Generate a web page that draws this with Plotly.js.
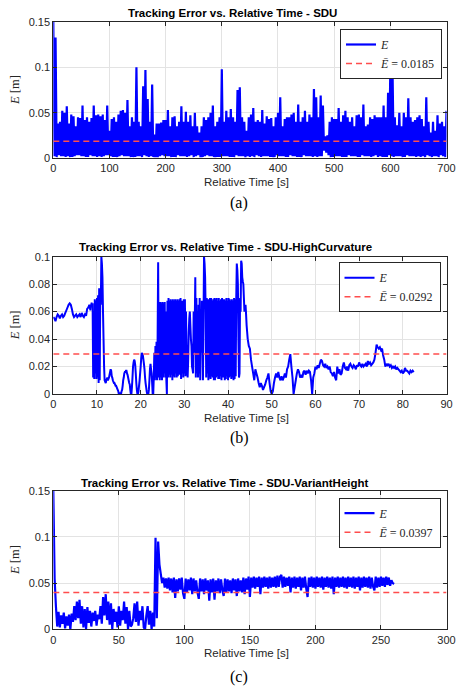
<!DOCTYPE html>
<html>
<head>
<meta charset="utf-8">
<script src="https://cdn.plot.ly/plotly-3.0.1.min.js"></script>
<style>
html,body{margin:0;padding:0;background:#ffffff;}
#chart{width:457px;height:687px;}
</style>
</head>
<body>
<div id="chart"></div>
<script>
// ---------------- DATA ----------------
// (a) SDU : tracking error sampled every 2 s
const sduStart = 0;
const sduStep = 2;
const sduError = [
0.150,0.002,0.133,0.001,0.038,0.003,0.040,0.002,0.052,0.002,
0.050,0.001,0.057,0.002,0.038,0.001,0.048,0.001,0.046,0.002,
0.035,0.003,0.045,0.003,0.044,0.002,0.058,0.002,0.042,0.001,
0.045,0.001,0.040,0.003,0.044,0.002,0.058,0.002,0.047,0.001,
0.048,0.002,0.046,0.001,0.048,0.002,0.042,0.003,0.058,0.003,
0.030,0.002,0.043,0.001,0.045,0.001,0.040,0.001,0.048,0.002,
0.052,0.003,0.053,0.002,0.050,0.002,0.064,0.002,0.035,0.001,
0.045,0.001,0.040,0.001,0.100,0.002,0.040,0.002,0.035,0.001,
0.079,0.003,0.097,0.002,0.065,0.001,0.040,0.002,0.081,0.001,
0.026,0.001,0.038,0.001,0.038,0.002,0.039,0.003,0.042,0.002,
0.042,0.002,0.053,0.002,0.035,0.001,0.045,0.001,0.046,0.001,
0.035,0.003,0.040,0.002,0.057,0.002,0.040,0.002,0.051,0.001,
0.040,0.002,0.047,0.003,0.035,0.001,0.050,0.002,0.035,0.003,
0.028,0.001,0.035,0.001,0.045,0.002,0.042,0.003,0.045,0.002,
0.050,0.002,0.058,0.001,0.035,0.001,0.040,0.001,0.045,0.001,
0.098,0.002,0.040,0.002,0.052,0.002,0.045,0.001,0.054,0.001,
0.045,0.001,0.040,0.003,0.075,0.002,0.078,0.002,0.045,0.002,
0.040,0.001,0.030,0.002,0.045,0.001,0.048,0.002,0.055,0.001,
0.040,0.003,0.042,0.002,0.040,0.001,0.053,0.002,0.038,0.002,
0.046,0.002,0.043,0.001,0.044,0.001,0.035,0.001,0.045,0.003,
0.050,0.002,0.067,0.002,0.035,0.002,0.043,0.001,0.045,0.001,
0.045,0.003,0.048,0.002,0.050,0.002,0.040,0.001,0.059,0.001,
0.040,0.001,0.045,0.003,0.052,0.002,0.040,0.002,0.048,0.002,
0.045,0.001,0.076,0.002,0.067,0.001,0.045,0.002,0.069,0.002,
0.058,0.008,0.024,0.006,0.025,0.003,0.040,0.001,0.045,0.001,
0.043,0.002,0.043,0.002,0.055,0.002,0.040,0.001,0.047,0.001,
0.052,0.001,0.045,0.003,0.040,0.002,0.045,0.002,0.035,0.002,
0.047,0.001,0.048,0.001,0.045,0.003,0.059,0.002,0.035,0.002,
0.037,0.002,0.045,0.001,0.043,0.002,0.047,0.003,0.045,0.001,
0.045,0.002,0.045,0.001,0.058,0.001,0.045,0.001,0.072,0.003,
0.100,0.002,0.093,0.001,0.045,0.002,0.036,0.002,0.050,0.002,
0.035,0.001,0.050,0.001,0.045,0.003,0.066,0.002,0.045,0.002,
0.040,0.002,0.042,0.001,0.045,0.002,0.047,0.001,0.043,0.002,
0.035,0.001,0.067,0.003,0.040,0.002,0.028,0.001,0.040,0.002,
0.030,0.002,0.047,0.001,0.038,0.003,0.040,0.002,0.035,0.001,
0.052
];
const sduMean = 0.0185;

// (b) SDU-HighCurvature : three stretches of one recording
// 0 s .. 9 s, sampled every 0.25 s
const hcStartA = 0, hcStepA = 0.25;
const hcErrorA = [
0.056,0.055,0.053,0.056, 0.058,0.057,0.055,0.057, 0.058,0.056,0.057,0.059,
0.061,0.063,0.065,0.066, 0.065,0.062,0.058,0.056, 0.057,0.058,0.056,0.057,
0.058,0.056,0.059,0.057, 0.056,0.058,0.057,0.062, 0.063,0.065,0.061,0.066,
0.066
];
// 9 s .. 44.5 s, sampled every 0.125 s
const hcStartB = 9, hcStepB = 0.125;
const hcErrorB = [
0.066,0.012,0.060,0.011,0.069,0.015,0.068,0.011,
0.070,0.012,0.072,0.008,0.077,0.010,0.075,0.065,
0.100,0.095,0.085,0.060,0.040,0.020,0.010,0.009,
0.008,0.010,0.011,0.012,0.010,0.011,0.012,0.014,
0.016,0.018,0.017,0.013,0.012,0.010,0.009,0.008,
0.008,0.007,0.006,0.006,0.005,0.004,0.003,0.002,
0.000,0.000,0.001,0.000,0.000,0.002,0.003,0.006,
0.010,0.012,0.015,0.016,0.016,0.017,0.017,0.015,
0.014,0.012,0.010,0.008,0.007,0.003,0.000,0.000,
0.005,0.012,0.020,0.023,0.025,0.024,0.021,0.015,
0.008,0.003,0.000,0.000,0.002,0.006,0.010,0.015,
0.020,0.026,0.030,0.029,0.028,0.025,0.022,0.018,
0.012,0.008,0.005,0.002,0.000,0.000,0.000,0.003,
0.010,0.018,0.022,0.018,0.015,0.008,0.000,0.000,
0.012,0.030,0.010,0.035,0.012,0.038,0.010,0.040,
0.096,0.012,0.067,0.010,0.067,0.012,0.066,0.010,
0.067,0.012,0.066,0.015,0.067,0.012,0.060,0.010,
0.000,0.068,0.012,0.070,0.014,0.068,0.012,0.069,
0.014,0.068,0.010,0.069,0.013,0.068,0.012,0.069,
0.015,0.068,0.012,0.069,0.013,0.068,0.014,0.069,
0.014,0.070,0.011,0.068,0.015,0.068,0.012,0.069,
0.015,0.069,0.013,0.060,0.030,0.020,0.012,0.025,
0.045,0.055,0.060,0.050,0.040,0.035,0.020,0.018,
0.015,0.060,0.030,0.050,0.085,0.012,0.070,0.015,
0.060,0.012,0.065,0.015,0.070,0.010,0.060,0.030,
0.068,0.040,0.010,0.050,0.100,0.095,0.085,0.060,
0.012,0.070,0.015,0.069,0.010,0.069,0.012,0.070,
0.011,0.070,0.013,0.068,0.012,0.069,0.010,0.070,
0.010,0.069,0.012,0.070,0.013,0.068,0.011,0.070,
0.011,0.068,0.013,0.069,0.010,0.070,0.012,0.069,
0.012,0.069,0.010,0.068,0.011,0.070,0.013,0.068,
0.010,0.070,0.012,0.069,0.013,0.068,0.011,0.069,
0.012,0.068,0.010,0.070,0.011,0.069,0.013,0.070,
0.095,0.090,0.080,0.040,0.012,0.015,0.070,0.060,
0.097,0.095,0.085,0.082,0.080,0.070,0.060,0.062,
0.065,0.058,0.050,0.045,0.040
];
// 44.5 s .. 82.5 s, sampled every 0.25 s
const hcStartC = 44.5, hcStepC = 0.25;
const hcErrorC = [
0.040,0.035,
0.033,0.025,0.020,0.015, 0.010,0.018,0.015,0.012, 0.008,0.005,0.008,0.006,
0.003,0.005,0.007,0.010, 0.012,0.015,0.008,0.002, 0.000,0.002,0.008,0.012,
0.015,0.012,0.016,0.012, 0.010,0.013,0.010,0.012, 0.015,0.012,0.018,0.020,
0.025,0.029,0.020,0.012, 0.000,0.005,0.010,0.015, 0.018,0.016,0.012,0.014,
0.012,0.016,0.017,0.014, 0.017,0.015,0.017,0.016, 0.010,0.000,0.012,0.015,
0.020,0.018,0.021,0.019, 0.022,0.025,0.024,0.021, 0.020,0.022,0.019,0.020,
0.018,0.020,0.016,0.015, 0.013,0.016,0.012,0.010, 0.020,0.015,0.018,0.014,
0.015,0.020,0.023,0.019, 0.018,0.020,0.017,0.021, 0.022,0.020,0.019,0.021,
0.020,0.018,0.021,0.020, 0.023,0.021,0.020,0.022, 0.020,0.021,0.022,0.020,
0.024,0.022,0.023,0.021, 0.022,0.023,0.025,0.030, 0.036,0.034,0.033,0.034,
0.032,0.033,0.028,0.025, 0.020,0.022,0.021,0.022, 0.020,0.021,0.019,0.020,
0.019,0.020,0.018,0.019, 0.018,0.017,0.016,0.017, 0.015,0.016,0.019,0.017,
0.017,0.016,0.015,0.017, 0.016,0.017,0.016
];
const hcMean = 0.0292;

// (c) SDU-VariantHeight : tracking error sampled every 1 s
const vhStart = 0;
const vhStep = 1;
const vhError = [
0.150,0.055,0.025,0.003,0.019,0.002,0.015,0.006,0.018,0.001,
0.014,0.004,0.016,0.000,0.017,0.008,0.025,0.010,0.030,0.012,
0.032,0.006,0.025,0.002,0.022,0.000,0.024,0.007,0.020,0.003,
0.018,0.009,0.020,0.004,0.016,0.011,0.025,0.006,0.035,0.015,
0.038,0.010,0.030,0.005,0.028,0.000,0.022,0.008,0.019,0.002,
0.025,0.004,0.020,0.010,0.030,0.006,0.024,0.000,0.020,0.003,
0.005,0.012,0.028,0.008,0.030,0.004,0.020,0.010,0.025,0.002,
0.000,0.015,0.025,0.005,0.020,0.000,0.018,0.003,0.099,0.012,
0.095,0.070,0.060,0.050,0.056,0.045,0.055,0.044,0.056,0.042,
0.055,0.040,0.056,0.034,0.054,0.041,0.055,0.043,0.056,0.039,
0.033,0.055,0.040,0.054,0.042,0.056,0.038,0.055,0.041,0.053,
0.040,0.033,0.055,0.041,0.054,0.038,0.055,0.042,0.053,0.031,
0.054,0.040,0.055,0.032,0.053,0.041,0.055,0.039,0.054,0.042,
0.036,0.055,0.040,0.054,0.041,0.053,0.039,0.055,0.042,0.054,
0.036,0.055,0.041,0.053,0.040,0.056,0.038,0.055,0.043,0.057,
0.035,0.056,0.045,0.057,0.044,0.056,0.046,0.057,0.038,0.056,
0.045,0.057,0.046,0.056,0.044,0.057,0.045,0.056,0.046,0.057,
0.045,0.058,0.046,0.057,0.059,0.045,0.057,0.046,0.056,0.047,
0.057,0.040,0.056,0.045,0.057,0.044,0.056,0.046,0.057,0.042,
0.056,0.045,0.057,0.044,0.035,0.056,0.046,0.057,0.045,0.056,
0.044,0.057,0.046,0.056,0.045,0.057,0.043,0.056,0.046,0.057,
0.045,0.056,0.044,0.057,0.038,0.056,0.046,0.057,0.045,0.056,
0.046,0.057,0.045,0.056,0.044,0.057,0.046,0.056,0.045,0.057,
0.044,0.056,0.046,0.057,0.042,0.056,0.045,0.057,0.046,0.056,
0.045,0.057,0.044,0.056,0.046,0.042,0.057,0.045,0.056,0.046,
0.057,0.047,0.056,0.046,0.057,0.048,0.056,0.047,0.053,0.050,
0.049
];
const vhMean = 0.0397;

// axes ranges and ticks
const xRange1 = [0, 700], yRange1 = [0, 0.15];
const xRange2 = [0, 90],  yRange2 = [0, 0.1];
const xRange3 = [0, 300], yRange3 = [0, 0.15];
const xTicks1 = [0,100,200,300,400,500,600,700];
const xTicks2 = [0,10,20,30,40,50,60,70,80,90];
const xTicks3 = [0,50,100,150,200,250,300];
const yTicks1 = [0,0.05,0.1,0.15];
const yTickText1 = ['0','0.05','0.1','0.15'];
const yTicks2 = [0,0.02,0.04,0.06,0.08,0.1];
const yTickText2 = ['0','0.02','0.04','0.06','0.08','0.1'];
const yTicks3 = [0,0.05,0.1,0.15];
const yTickText3 = ['0','0.05','0.1','0.15'];

const titles = [
  'Tracking Error vs. Relative Time - SDU',
  'Tracking Error vs. Relative Time - SDU-HighCurvature',
  'Tracking Error vs. Relative Time - SDU-VariantHeight'
];
const captions = ['(a)', '(b)', '(c)'];
const xTitle = 'Relative Time [s]';
const yTitle = '<i>E</i> [m]';
const lineName = '<i>E</i>';
const meanNames = [
  '<i>Ē</i> = ' + sduMean.toFixed(4),
  '<i>Ē</i> = ' + hcMean.toFixed(4),
  '<i>Ē</i> = ' + vhMean.toFixed(4)
];

// ---------------- STYLE / LAYOUT ----------------
const W = 457, H = 687;
const px = v => v / W;
const py = v => 1 - v / H;
const BLUE = '#0000ff', RED = '#ff4d4d', AX = '#262626', GRID = '#e3e3e3';
const SANS = 'Liberation Sans, Arial, sans-serif';
const SERIF = 'Liberation Serif, Times New Roman, serif';
const blueLine = w => ({color:BLUE, width:w, simplify:false});
const redLine = {color:RED, width:1.5, dash:'6px,4px'};

const traces = [
  {type:'scatter', mode:'lines', x0:sduStart, dx:sduStep, y:sduError, xaxis:'x', yaxis:'y',
   name:lineName, legend:'legend', line:blueLine(2.2)},
  {type:'scatter', mode:'lines', x:xRange1, y:[sduMean, sduMean], xaxis:'x', yaxis:'y',
   name:meanNames[0], legend:'legend', line:redLine},
  {type:'scatter', mode:'lines', x0:hcStartA, dx:hcStepA, y:hcErrorA, xaxis:'x2', yaxis:'y2',
   name:lineName, legend:'legend2', legendgroup:'hc', line:blueLine(2)},
  {type:'scatter', mode:'lines', x0:hcStartB, dx:hcStepB, y:hcErrorB, xaxis:'x2', yaxis:'y2',
   name:lineName, legend:'legend2', legendgroup:'hc', showlegend:false, line:blueLine(2)},
  {type:'scatter', mode:'lines', x0:hcStartC, dx:hcStepC, y:hcErrorC, xaxis:'x2', yaxis:'y2',
   name:lineName, legend:'legend2', legendgroup:'hc', showlegend:false, line:blueLine(2)},
  {type:'scatter', mode:'lines', x:xRange2, y:[hcMean, hcMean], xaxis:'x2', yaxis:'y2',
   name:meanNames[1], legend:'legend2', line:redLine},
  {type:'scatter', mode:'lines', x0:vhStart, dx:vhStep, y:vhError, xaxis:'x3', yaxis:'y3',
   name:lineName, legend:'legend3', line:blueLine(2.2)},
  {type:'scatter', mode:'lines', x:xRange3, y:[vhMean, vhMean], xaxis:'x3', yaxis:'y3',
   name:meanNames[2], legend:'legend3', line:redLine}
];

function xAxis(range, ticks, dom, anchor) {
  return {domain:dom, range:range, anchor:anchor, tickvals:ticks, ticks:'inside', ticklen:4,
    tickcolor:AX, showline:true, linecolor:AX, linewidth:1, mirror:'ticks', showgrid:true,
    gridcolor:GRID, gridwidth:1, zeroline:false, tickfont:{family:SANS, size:11, color:AX},
    fixedrange:true};
}
function yAxis(range, ticks, text, dom, anchor) {
  return {domain:dom, range:range, anchor:anchor, tickvals:ticks, ticktext:text, ticks:'inside',
    ticklen:4, tickcolor:AX, showline:true, linecolor:AX, linewidth:1, mirror:'ticks',
    showgrid:true, gridcolor:GRID, gridwidth:1, zeroline:false,
    tickfont:{family:SANS, size:11, color:AX}, fixedrange:true};
}
const xDom = [px(53.3), px(446.5)];
const yDom1 = [py(158), py(22)];
const yDom2 = [py(394), py(256.7)];
const yDom3 = [py(629.3), py(490.7)];

function legendCfg(rightPx, topPx) {
  return {x:px(rightPx), y:py(topPx), xanchor:'right', yanchor:'top', bgcolor:'#ffffff',
    bordercolor:AX, borderwidth:1, font:{family:SERIF, size:12, color:AX},
    tracegroupgap:0, itemwidth:30};
}

const annotations = [];
const titleX = [232.7, 225.8, 224.7];
const titleY = [13.3, 246.7, 482.7];
const xTitleY = [182, 418.3, 652.7];
const yTitleY = [90, 325.3, 560];
const captionY = [203, 438, 676.5];
for (let i = 0; i < 3; i++) {
  annotations.push({text:'<b>' + titles[i] + '</b>', x:px(titleX[i]), y:py(titleY[i]),
    xref:'paper', yref:'paper', xanchor:'center', yanchor:'middle', showarrow:false,
    font:{family:SANS, size:11.5, color:'#000000'}});
  annotations.push({text:xTitle, x:px(246), y:py(xTitleY[i]), xref:'paper', yref:'paper',
    xanchor:'center', yanchor:'middle', showarrow:false, font:{family:SANS, size:11.5, color:AX}});
  annotations.push({text:yTitle, x:px(15), y:py(yTitleY[i]), xref:'paper', yref:'paper',
    xanchor:'center', yanchor:'middle', textangle:-90, showarrow:false,
    font:{family:SERIF, size:12.5, color:AX}});
  annotations.push({text:captions[i], x:px(239), y:py(captionY[i]), xref:'paper', yref:'paper',
    xanchor:'center', yanchor:'middle', showarrow:false, font:{family:SERIF, size:16, color:'#000000'}});
}

const layout = {
  width:W, height:H, margin:{l:0, r:0, t:0, b:0}, paper_bgcolor:'#ffffff', plot_bgcolor:'#ffffff',
  showlegend:true,
  xaxis: xAxis(xRange1, xTicks1, xDom, 'y'),
  yaxis: yAxis(yRange1, yTicks1, yTickText1, yDom1, 'x'),
  xaxis2: xAxis(xRange2, xTicks2, xDom, 'y2'),
  yaxis2: yAxis(yRange2, yTicks2, yTickText2, yDom2, 'x2'),
  xaxis3: xAxis(xRange3, xTicks3, xDom, 'y3'),
  yaxis3: yAxis(yRange3, yTicks3, yTickText3, yDom3, 'x3'),
  legend: legendCfg(442, 29),
  legend2: legendCfg(440.5, 262.3),
  legend3: legendCfg(440.5, 497.7),
  annotations: annotations
};

Plotly.newPlot('chart', traces, layout, {displayModeBar:false, staticPlot:true});
</script>
</body>
</html>
